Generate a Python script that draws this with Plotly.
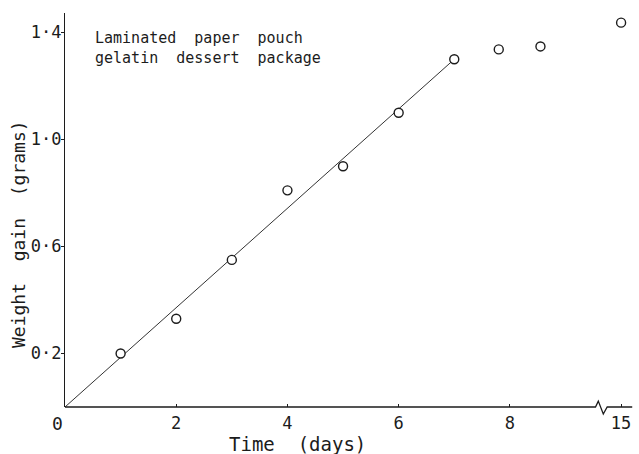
import plotly.graph_objects as go

# Weight gain of a laminated paper pouch (gelatin dessert package) over time
days = [1, 2, 3, 4, 5, 6, 7, 7.8, 8.55, 15]
weight_gain = [0.20, 0.33, 0.55, 0.81, 0.90, 1.10, 1.30, 1.337, 1.348, 1.437]

# fitted straight line through the linear region
fit_days = [0, 7]
fit_gain = [0, 1.30]

# axis ticks
x_tick_days = [2, 4, 6, 8, 15]
x_tick_text = ["2", "4", "6", "8", "15"]
y_tick_vals = [0.2, 0.6, 1.0, 1.4]
y_tick_text = ["0·2", "0·6", "1·0", "1·4"]

# the time axis is broken between 9 and 15 days
BREAK_AT = 9.0
BREAK_SHIFT = 5.0
X_MAX = 10.25
Y_MAX = 1.473


def to_axis(d):
    return d if d < BREAK_AT else d - BREAK_SHIFT


INK = "#1c1c1c"
FONT = "DejaVu Sans Mono"

fig = go.Figure()

fig.add_trace(go.Scatter(
    x=[to_axis(d) for d in fit_days], y=fit_gain,
    mode="lines", line=dict(color="#333333", width=1),
    hoverinfo="skip", showlegend=False,
))

fig.add_trace(go.Scatter(
    x=[to_axis(d) for d in days], y=weight_gain,
    mode="markers",
    marker=dict(symbol="circle", size=9, color="white",
                line=dict(color=INK, width=1.4)),
    cliponaxis=False, showlegend=False,
))


def px(v):
    return v / X_MAX


def py(v):
    return v / Y_MAX


# time axis line with the break zig-zag
axis_path = (
    f"M 0,0 L {px(9.54)},0 L {px(9.59)},{py(0.022)} "
    f"L {px(9.68)},{py(-0.026)} L {px(9.75)},0 L {px(10.2)},0"
)
fig.add_shape(type="path", xref="paper", yref="paper", path=axis_path,
              line=dict(color=INK, width=1.3))

fig.add_annotation(
    xref="paper", yref="paper", x=0, y=0, xshift=-8, yshift=-16,
    xanchor="center", yanchor="middle",
    text="0", showarrow=False, font=dict(family=FONT, size=18, color=INK),
)

fig.add_annotation(
    xref="paper", yref="paper", x=28 / 570, y=py(1.344),
    xanchor="left", yanchor="middle",
    text="Laminated\u00a0\u00a0paper\u00a0\u00a0pouch<br>gelatin\u00a0\u00a0dessert\u00a0\u00a0package",
    align="left", showarrow=False,
    font=dict(family=FONT, size=15, color=INK),
)

fig.add_annotation(
    xref="paper", yref="paper", x=0, y=(407 - 234) / 394, xshift=-46,
    xanchor="center", yanchor="middle",
    text="Weight\u00a0\u00a0gain\u00a0\u00a0(grams)", textangle=-90,
    showarrow=False, font=dict(family=FONT, size=18, color=INK),
)

fig.add_annotation(
    xref="paper", yref="paper", x=(297 - 65) / 570, y=0, yshift=-37,
    xanchor="center", yanchor="middle",
    text="Time\u00a0\u00a0(days)", showarrow=False,
    font=dict(family=FONT, size=19, color=INK),
)

fig.update_layout(
    width=639, height=454,
    margin=dict(l=65, r=4, t=13, b=47),
    paper_bgcolor="white", plot_bgcolor="white",
    font=dict(family=FONT, color=INK),
    xaxis=dict(
        range=[0, X_MAX], showline=False, zeroline=False, showgrid=False,
        tickmode="array", tickvals=[to_axis(d) for d in x_tick_days],
        ticktext=x_tick_text, ticks="inside", ticklen=3, tickwidth=1.2,
        tickcolor=INK, tickfont=dict(family=FONT, size=17, color=INK),
        ticklabelstandoff=4,
    ),
    yaxis=dict(
        range=[0, Y_MAX], showline=True, linecolor=INK, linewidth=1.3,
        zeroline=False, showgrid=False,
        tickmode="array", tickvals=y_tick_vals, ticktext=y_tick_text,
        ticks="outside", ticklen=3, tickwidth=1.2, tickcolor=INK,
        tickfont=dict(family=FONT, size=17, color=INK),
        ticklabelstandoff=-4,
    ),
)

fig.write_html("out.html")
